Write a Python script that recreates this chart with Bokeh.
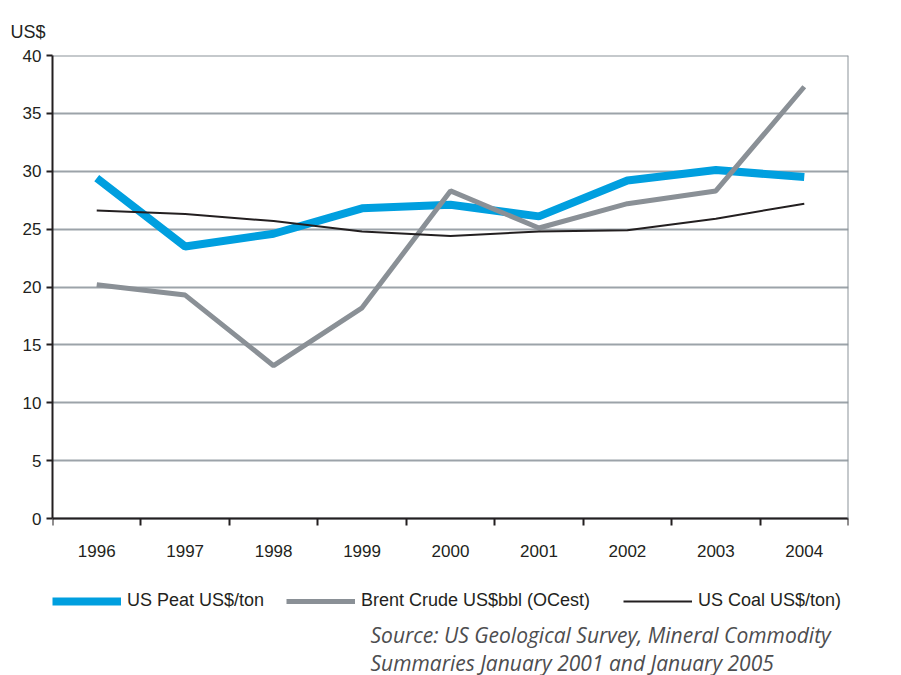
from bokeh.plotting import figure
from bokeh.models import Range1d, FixedTicker, Legend, LegendItem, Title, Label, LinearAxis
from bokeh.embed import file_html
from bokeh.resources import INLINE

years = ["1996", "1997", "1998", "1999", "2000", "2001", "2002", "2003", "2004"]
peat = [29.4, 23.5, 24.6, 26.8, 27.1, 26.1, 29.2, 30.1, 29.5]
brent = [20.2, 19.3, 13.2, 18.2, 28.3, 25.1, 27.2, 28.3, 37.3]
coal = [26.6, 26.3, 25.7, 24.8, 24.4, 24.8, 24.9, 25.9, 27.2]
y_ticks = [0, 5, 10, 15, 20, 25, 30, 35, 40]
source_lines = ["Source: US Geological Survey, Mineral Commodity",
                "Summaries January 2001 and January 2005"]

xs = list(range(1, len(years) + 1))
x0, x1 = 0.5, len(years) + 0.5
y_top = y_ticks[-1]
W, H = 901, 675
LEFT, RIGHT = 52, 848                    # frame left / right in pixels
TOP, BOT = 55, 518                       # frame top / zero line in pixels
ppu = (BOT - TOP) / y_top                # pixels per y unit
ppx = (RIGHT - LEFT) / (x1 - x0)         # pixels per x unit
y_bottom = -(H - BOT) / ppu              # frame extended down to canvas bottom

p = figure(width=W, height=H, output_backend="svg", toolbar_location=None,
           x_range=Range1d(x0, x1), y_range=Range1d(y_bottom, y_top),
           min_border_left=LEFT, min_border_right=W - RIGHT, min_border_top=TOP,
           min_border_bottom=0)

p.outline_line_color = None
p.background_fill_color = "white"

p.xgrid.visible = False
p.ygrid.ticker = FixedTicker(ticks=y_ticks)
p.ygrid.grid_line_color = "#9ca3a9"
p.ygrid.grid_line_width = 2

yax = p.yaxis[0]
yax.ticker = FixedTicker(ticks=y_ticks)
yax.bounds = (0, y_top)
yax.axis_line_color = "#231f20"
yax.axis_line_width = 2
yax.major_tick_line_color = "#231f20"
yax.major_tick_line_width = 2
yax.major_tick_out = 6
yax.major_tick_in = 0
yax.minor_tick_line_color = None
yax.major_label_text_font = "Liberation Sans"
yax.major_label_text_font_size = "17px"
yax.major_label_text_color = "#231f20"
yax.major_label_standoff = 5

xax = p.xaxis[0]
xax.fixed_location = 0
xax.ticker = FixedTicker(ticks=xs, minor_ticks=[x - 0.5 for x in xs] + [xs[-1] + 0.5])
xax.major_label_overrides = {x: y for x, y in zip(xs, years)}
xax.axis_line_color = "#231f20"
xax.axis_line_width = 2
xax.major_tick_line_color = None
xax.minor_tick_line_color = "#231f20"
xax.minor_tick_line_width = 2
xax.minor_tick_out = 7
xax.minor_tick_in = 0
xax.major_label_text_font = "Liberation Sans"
xax.major_label_text_font_size = "17px"
xax.major_label_text_color = "#231f20"
xax.major_label_standoff = 19

# grey frame border on top and right (axes without ticks or labels)
top_ax = LinearAxis(fixed_location=y_top, ticker=FixedTicker(ticks=[]),
                    major_tick_line_color=None, minor_tick_line_color=None,
                    axis_line_color="#8c9399", axis_line_width=2)
right_ax = LinearAxis(fixed_location=x1, bounds=(0, y_top), ticker=FixedTicker(ticks=[]),
                      major_tick_line_color=None, minor_tick_line_color=None,
                      axis_line_color="#8c9399", axis_line_width=2)
p.add_layout(top_ax, "above")
p.add_layout(right_ax, "right")

r_peat = p.line(xs, peat, line_color="#009fdf", line_width=8)
r_brent = p.line(xs, brent, line_color="#8a9096", line_width=5)
r_coal = p.line(xs, coal, line_color="#231f20", line_width=2)

def add_leg(label, r, x):
    lg = Legend(items=[LegendItem(label=label, renderers=[r])], location=(x, 64),
                orientation="horizontal", border_line_color=None, background_fill_alpha=0,
                padding=0, margin=0, glyph_width=69, glyph_height=20, label_standoff=6,
                label_text_font="Liberation Sans", label_text_font_size="18px",
                label_text_color="#231f20")
    p.add_layout(lg, "center")

add_leg("US Peat US$/ton", r_peat, 0)
add_leg("Brent Crude US$bbl (OCest)", r_brent, 234)
add_leg("US Coal US$/ton)", r_coal, 571)

src_x = x0 + (370 - LEFT) / ppx
for i, line in enumerate(source_lines):
    p.add_layout(Label(x=src_x, y=-(634 + 28 * i - BOT) / ppu, text=line,
                       text_font="Open Sans", text_font_style="italic", text_font_size="21px",
                       text_color="#4d4d4f", text_baseline="middle"))

p.add_layout(Title(text="US$", align="left", offset=-42, standoff=24, vertical_align="top",
                   text_font="Liberation Sans", text_font_style="normal",
                   text_font_size="18px", text_color="#231f20"), "above")

open("out.html", "w").write(file_html(p, INLINE))
